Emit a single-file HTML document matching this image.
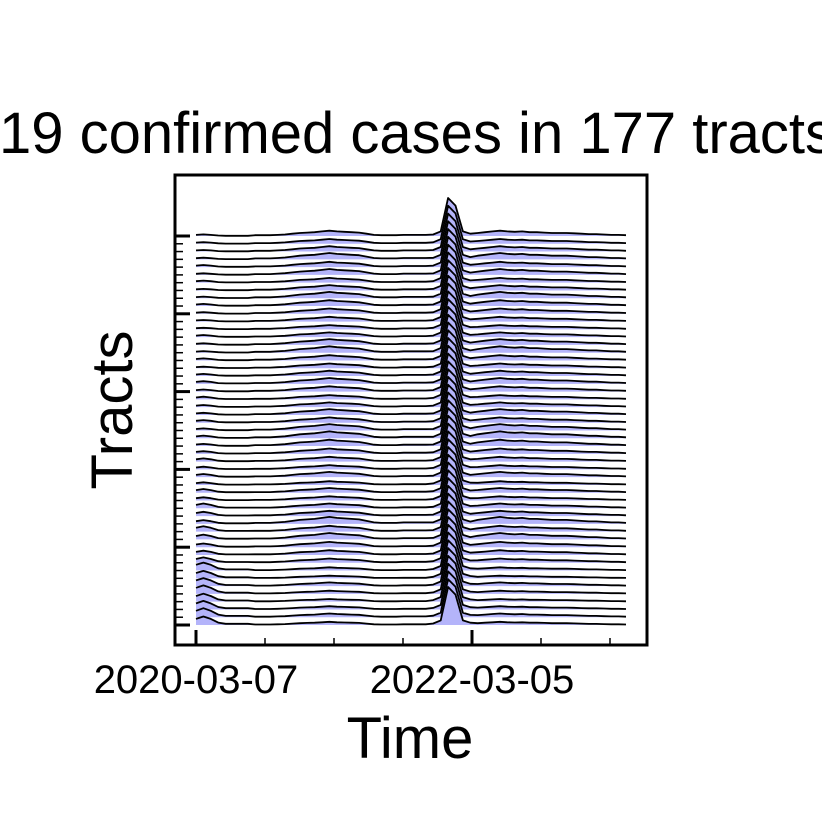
<!DOCTYPE html>
<html><head><meta charset="utf-8"><style>html,body{margin:0;padding:0;background:#fff}svg{display:block}text{font-family:"Liberation Sans",Arial,sans-serif;fill:#000}</style></head>
<body>
<svg id="chart" width="822" height="822" viewBox="0 0 822 822" xmlns="http://www.w3.org/2000/svg">
<rect width="822" height="822" fill="#fff"/>
<text x="834" y="153" font-size="58" text-anchor="end">COVID-19 confirmed cases in 177 tracts</text>
<g id="ridges"></g>
<g id="axes"></g>
<text x="410" y="758" font-size="58" text-anchor="middle">Time</text>
<text transform="translate(132,410) rotate(-90)" font-size="58" text-anchor="middle">Tracts</text>
</svg>
<script>
// shared weekly profile shape (relative case level)
const profile = [0.10,0.14,0.10,0.04,0.02,0.02,0.02,0.02,0.02,0.02,0.02,0.03,0.04,0.06,0.08,0.09,0.10,0.12,0.14,0.12,0.11,0.10,0.09,0.06,0.03,0.02,0.02,0.02,0.03,0.03,0.03,0.03,0.04,0.12,1.00,0.80,0.12,0.06,0.08,0.10,0.12,0.14,0.12,0.11,0.12,0.10,0.10,0.09,0.08,0.08,0.08,0.07,0.06,0.05,0.05,0.04,0.03,0.03,0.02];
// per-tract early-wave and later-wave multipliers (bottom row first)
const earlyScale = [1.6,1.7,1.6,1.5,1.6,1.5,1.4,1.5,1.0,0.8,0.7,0.9,1.0,0.7,0.8,0.9,0.6,0.7,0.5,0.6,0.5,0.6,0.5,0.4,0.5,0.4,0.5,0.4,0.4,0.5,0.4,0.5,0.4,0.3,0.4,0.3,0.3,0.4,0.3,0.3,0.3,0.4,0.3,0.3,0.4,0.3,0.4,0.3,0.3,0.3,0.3];
const waveScale = [0.6,0.7,0.6,0.5,0.6,0.7,0.5,0.6,0.8,0.9,1.0,1.2,1.1,1.3,1.0,0.9,0.8,0.9,0.7,1.0,0.8,0.9,1.0,1.2,1.3,1.2,1.0,1.1,0.9,0.8,1.0,1.1,1.0,0.9,1.0,1.2,1.1,0.9,0.8,0.9,1.0,1.1,1.2,1.0,0.9,1.1,1.0,1.2,1.0,0.9,1.0];
const xTickLabels = ["2020-03-07","2022-03-05"];
const nRows = earlyScale.length;
const NS = "http://www.w3.org/2000/svg";
const x0 = 196, x1 = 626, yBottom = 625, yTop = 236;
function xScale(i){ return x0 + (x1 - x0) * i / (profile.length - 1); }
function yBase(r){ return yBottom - (yBottom - yTop) * r / (nRows - 1); }
const peakH = 38;
const ridges = document.getElementById('ridges');
for (let r = nRows - 1; r >= 0; r--) {
  const base = yBase(r);
  let pts = [];
  for (let i = 0; i < profile.length; i++) {
    let v = profile[i];
    let s = (i < 8) ? earlyScale[r] : (i >= 32 && i <= 37 ? 1 : waveScale[r]);
    pts.push([xScale(i), base - v * s * peakH]);
  }
  const line = pts.map((p, k) => (k ? 'L' : 'M') + p[0].toFixed(1) + ' ' + p[1].toFixed(1)).join(' ');
  const fill = document.createElementNS(NS, 'path');
  fill.setAttribute('d', line + ' L' + x1 + ' ' + base + ' L' + x0 + ' ' + base + ' Z');
  fill.setAttribute('fill', '#b4b4fa');
  fill.setAttribute('stroke', 'none');
  
  
  ridges.appendChild(fill);
  const ln = document.createElementNS(NS, 'path');
  ln.setAttribute('d', line);
  ln.setAttribute('fill', 'none');
  ln.setAttribute('stroke', '#000');
  ln.setAttribute('stroke-width', '1.8');
  ln.setAttribute('stroke-linejoin', 'round');
  
  
  ridges.appendChild(ln);
}
const axes = document.getElementById('axes');
const frame = document.createElementNS(NS, 'rect');
frame.setAttribute('x', 175); frame.setAttribute('y', 175);
frame.setAttribute('width', 472); frame.setAttribute('height', 470);
frame.setAttribute('fill', 'none'); frame.setAttribute('stroke', '#000'); frame.setAttribute('stroke-width', '3');


axes.appendChild(frame);
for (let r = 0; r < nRows; r++) {
  const t = document.createElementNS(NS, 'line');
  const major = r % 10 === 0;
  t.setAttribute('x1', 175); t.setAttribute('x2', major ? 190 : 183);
  t.setAttribute('y1', yBase(r)); t.setAttribute('y2', yBase(r));
  t.setAttribute('stroke', '#000'); t.setAttribute('stroke-width', major ? 3 : 1.5);
  
  
  axes.appendChild(t);
}
for (let k = 0; k < 7; k++) {
  const x = 196 + 69 * k;
  const major = k % 4 === 0;
  const t = document.createElementNS(NS, 'line');
  t.setAttribute('x1', x); t.setAttribute('x2', x);
  t.setAttribute('y1', 645); t.setAttribute('y2', major ? 630 : 638);
  t.setAttribute('stroke', '#000'); t.setAttribute('stroke-width', major ? 3 : 1.5);
  
  
  axes.appendChild(t);
  if (major) {
    const lab = document.createElementNS(NS, 'text');
    lab.setAttribute('x', x); lab.setAttribute('y', 693);
    lab.setAttribute('font-size', '40'); lab.setAttribute('text-anchor', 'middle');
    lab.textContent = xTickLabels[k / 4];
    
    
    axes.appendChild(lab);
  }
}
</script>
</body></html>
